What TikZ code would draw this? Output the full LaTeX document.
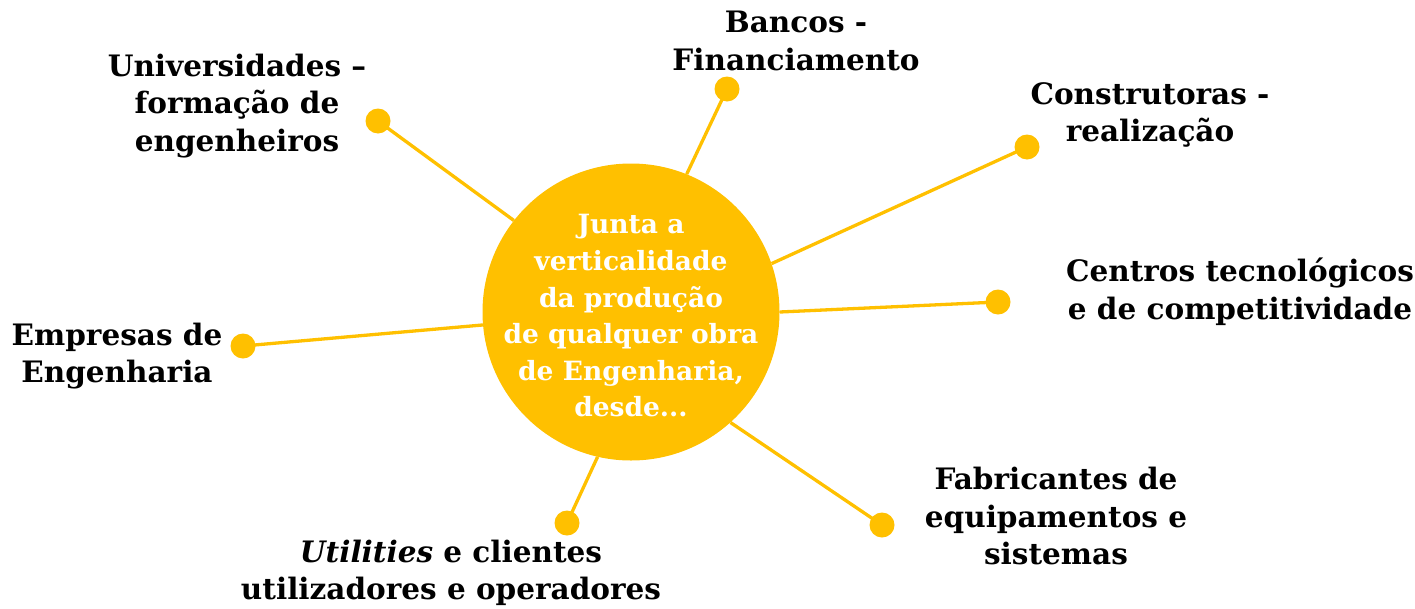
\documentclass[tikz,border=0pt]{standalone}
\usepackage{fontspec}
\setmainfont{DejaVu Serif}
\definecolor{gold}{HTML}{FFC000}
\begin{document}
\begin{tikzpicture}[x=1pt,y=-1pt,
  dot/.style={circle,fill=gold,inner sep=0pt,minimum size=25pt},
  link/.style={draw=gold,line width=3.3pt},
  lbl/.style={align=center,inner sep=0pt,font=\bfseries\fontsize{29.5}{37.5}\selectfont,text=black},
  hub/.style={circle,fill=gold,inner sep=0pt,minimum size=297pt}]
\useasboundingbox (0,0) rectangle (1415,608);
\node[hub] (c) at (631,312) {};
\node[lbl,text=white,font=\bfseries\fontsize{26.5}{36.6}\selectfont] (ct) at (631,316) {Junta a\\verticalidade\\da produção\\de qualquer obra\\de Engenharia,\\desde...};
\node[dot] (du) at (378,121) {};
\node[dot] (db) at (727,89) {};
\node[dot] (dk) at (1027,147) {};
\node[dot] (dc) at (998,302) {};
\node[dot] (de) at (243,346) {};
\node[dot] (df) at (882,525) {};
\node[dot] (dt) at (567,523) {};
\draw[link] (c.142.4) -- (du.center);
\draw[link] (c.68.3) -- (db.center);
\draw[link] (c.19.5) -- (dk.center);
\draw[link] (c.0.4) -- (dc.center);
\draw[link] (c.185.7) -- (de.center);
\draw[link] (c.312.2) -- (df.center);
\draw[link] (c.257.8) -- (dt.center);
\node[lbl] (lu) at (237,106) {Universidades –\\formação de\\engenheiros};
\node[lbl] (lb) at (796,41) {Bancos -\\Financiamento};
\node[lbl] (lk) at (1150,115) {Construtoras -\\realização};
\node[lbl] (lc) at (1240,292) {Centros tecnológicos\\e de competitividade};
\node[lbl] (le) at (117,356) {Empresas de\\Engenharia};
\node[lbl] (lf) at (1056,516) {Fabricantes de\\equipamentos e\\sistemas};
\node[lbl] (lt) at (451,573) {\textit{Utilities} e clientes\\utilizadores e operadores};
\end{tikzpicture}
\end{document}
